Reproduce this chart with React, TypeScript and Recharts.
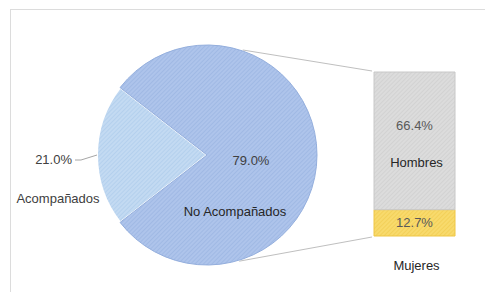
import React from "react";
import { PieChart, Pie, Cell, BarChart, Bar, XAxis, YAxis, LabelList, Customized } from "recharts";

// pie: travel companion split
const pieNames = ["Acompañados", "No Acompañados"];
const pieValues = [21.0, 79.0];

// bar of pie: breakdown of "No Acompañados"
const barNames = ["Mujeres", "Hombres"];
const barValues = [12.7, 66.4];

const pieData = pieNames.map((name, i) => ({ name, value: pieValues[i] }));
const barData = [{ cat: "No Acompañados", Mujeres: barValues[0], Hombres: barValues[1] }];

const W = 485;
const H = 292;
const CX = 207;
const CY = 155;
const R = 110;
const FONT = "'Liberation Sans', Arial, sans-serif";
const FS = 13;
const TXT = "#404040";

// bar placement (chart box), used for the connector lines
const BAR_LEFT = 364;
const BAR_TOP = 60;
const BAR_W = 101;
const BAR_H = 222;
const BAR_M = { top: 12, right: 10, left: 10, bottom: 46 };

const pieFills = ["url(#hatchLight)", "url(#hatchBlue)"];
const barFills: Record<string, string> = { Mujeres: "url(#hatchYellow)", Hombres: "url(#hatchGray)" };

const Hatch = ({ id, bg, line }: { id: string; bg: string; line: string }) => (
  <pattern id={id} width={3} height={3} patternUnits="userSpaceOnUse" patternTransform="rotate(45)">
    <rect width={3} height={3} fill={bg} />
    <line x1={0} y1={0} x2={0} y2={3} stroke={line} strokeWidth={1} />
  </pattern>
);

const Patterns = () => (
  <defs>
    <Hatch id="hatchBlue" bg="#AEC4EB" line="#93AEDD" />
    <Hatch id="hatchLight" bg="#C3DAF2" line="#A6C6E8" />
    <Hatch id="hatchGray" bg="#DCDCDC" line="#C8C8C8" />
    <Hatch id="hatchYellow" bg="#F8DA6C" line="#EFC645" />
  </defs>
);

const RAD = Math.PI / 180;

const pieLabel = (props: any) => {
  const { cx, cy, outerRadius, midAngle, index, value } = props;
  const pct = `${value.toFixed(1)}%`;
  if (index === 0) {
    // outside, to the left, with a short leader line
    const ex = cx + outerRadius * Math.cos(-midAngle * RAD);
    const ey = cy + outerRadius * Math.sin(-midAngle * RAD);
    return (
      <g fontFamily={FONT} fontSize={FS} fill={TXT}>
        <polyline points={`${ex},${ey} ${ex - 16},${ey + 5} ${ex - 22},${ey + 5}`} fill="none" stroke="#A6A6A6" strokeWidth={1} />
        <text x={ex - 25} y={ey + 4} textAnchor="end" dominantBaseline="central">{pct}</text>
        <text x={ex - 39} y={ey + 43} textAnchor="middle" dominantBaseline="central">{pieNames[index]}</text>
      </g>
    );
  }
  return (
    <g fontFamily={FONT} fontSize={FS} fill={TXT}>
      <text x={cx + 44} y={cy + 5} textAnchor="middle" dominantBaseline="central">{pct}</text>
      <text x={cx + 28} y={cy + 56} textAnchor="middle" dominantBaseline="central" fill="#262626">{pieNames[index]}</text>
    </g>
  );
};

const Connectors = () => {
  const plotH = BAR_H - BAR_M.top - BAR_M.bottom;
  const bx = BAR_LEFT + BAR_M.left - 2;
  const topY = BAR_TOP + BAR_M.top - 1;
  const botY = BAR_TOP + BAR_M.top + plotH + 1;
  const a1 = 71 * RAD;
  const a2 = -73 * RAD;
  return (
    <g stroke="#BFBFBF" strokeWidth={1}>
      <line x1={CX + R * Math.cos(a1)} y1={CY - R * Math.sin(a1) - 1} x2={bx} y2={topY} />
      <line x1={CX + R * Math.cos(a2)} y1={CY - R * Math.sin(a2) + 1} x2={bx} y2={botY} />
    </g>
  );
};

const barLabel = (key: string) => (props: any) => {
  const { x, y, width, height, value } = props;
  const mx = x + width / 2;
  const pct = `${Number(value).toFixed(1)}%`;
  if (key === "Hombres") {
    return (
      <g fontFamily={FONT} fontSize={FS}>
        <text x={mx} y={y + height * 0.39} textAnchor="middle" dominantBaseline="central" fill="#595959">{pct}</text>
        <text x={mx + 2} y={y + height * 0.66} textAnchor="middle" dominantBaseline="central" fill="#262626">{key}</text>
      </g>
    );
  }
  return (
    <g fontFamily={FONT} fontSize={FS}>
      <text x={mx} y={y + height / 2} textAnchor="middle" dominantBaseline="central" fill="#595959">{pct}</text>
      <text x={mx + 2} y={y + height + 29} textAnchor="middle" dominantBaseline="central" fill="#262626">{key}</text>
    </g>
  );
};

export default function App() {
  return (
    <div style={{ position: "absolute", left: 0, top: 0, width: W, height: H, background: "#fff", overflow: "hidden" }}>
      <div style={{ position: "absolute", left: 10, top: 9, width: W, height: H, borderTop: "1px solid #DCDCDC", borderLeft: "1px solid #DCDCDC" }} />
      <div style={{ position: "absolute", left: 0, top: 0 }}>
        <PieChart width={W} height={H} margin={{ top: 0, right: 0, bottom: 0, left: 0 }}>
          <Patterns />
          <Customized component={Connectors} />
          <Pie
            data={pieData}
            dataKey="value"
            nameKey="name"
            cx={CX}
            cy={CY}
            outerRadius={R}
            startAngle={142.2}
            endAngle={502.2}
            stroke="#fff"
            strokeWidth={2}
            label={pieLabel}
            labelLine={false}
            isAnimationActive={false}
          >
            {pieData.map((d, i) => (
              <Cell key={d.name} fill={pieFills[i]} stroke={i === 0 ? "#fff" : "#93AEDD"} strokeWidth={i === 0 ? 2 : 1} />
            ))}
          </Pie>
        </PieChart>
      </div>
      <div style={{ position: "absolute", left: BAR_LEFT, top: BAR_TOP }}>
        <BarChart width={BAR_W} height={BAR_H} data={barData} margin={BAR_M} barCategoryGap={0}>
          <Patterns />
          <XAxis dataKey="cat" hide />
          <YAxis hide domain={[0, barValues[0] + barValues[1]]} />
          {barNames.map((k) => (
            <Bar key={k} dataKey={k} stackId="s" fill={barFills[k]} stroke={k === "Hombres" ? "#C8C8C8" : "#EFC645"} strokeWidth={1} isAnimationActive={false}>
              <LabelList dataKey={k} content={barLabel(k)} />
            </Bar>
          ))}
        </BarChart>
      </div>
    </div>
  );
}
